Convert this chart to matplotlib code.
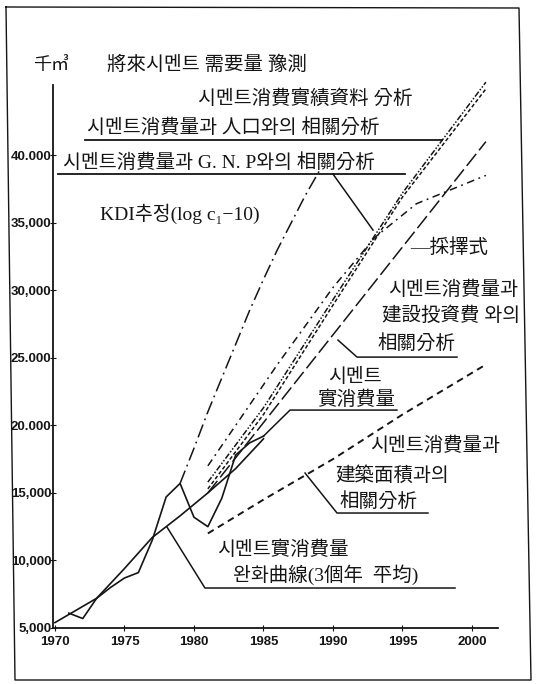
import matplotlib
matplotlib.use("Agg")
import matplotlib.pyplot as plt
from matplotlib.lines import Line2D

# cement consumption, thousand m3
actual_years = [1971, 1972, 1973, 1974, 1975, 1976, 1977, 1978, 1979, 1980, 1981, 1982, 1983, 1984, 1985]
actual = [6100, 5700, 7200, 8000, 8700, 9100, 11500, 14700, 15700, 13200, 12500, 14600, 17800, 18700, 19200]

smooth_years = [1970, 1973, 1975, 1977, 1979, 1981, 1983, 1985]
smooth = [5400, 7200, 9400, 11700, 13300, 15000, 16800, 19000]

kdi_years = [1979, 1980, 1981, 1982, 1983, 1984, 1985, 1986, 1987, 1988, 1989]
kdi = [15700, 18300, 21000, 23500, 26000, 28500, 30800, 33000, 35000, 37000, 38800]

proj_years = [1981, 1985, 1990, 1995, 2001]
record = [15800, 21300, 29300, 37200, 45400]       # 消費實績資料 分析
population = [15300, 20800, 28900, 36900, 44900]   # 人口와의 相關分析

chosen_years = [1981, 1990, 2001]
chosen = [15000, 26700, 41000]                     # 採擇式

gnp_years = [1981, 1983, 1986, 1990, 1993, 1996, 2001]
gnp = [17000, 20000, 24500, 30200, 33900, 36400, 38500]

floor_area = [12000, 14500, 17500, 20800, 24500]  # 建築面積

x_ticks = [1970, 1975, 1980, 1985, 1990, 1995, 2000]
y_ticks = [5000, 10000, 15000, 20000, 25000, 30000, 35000, 40000]
y_labels = ["5,000", "10,000", "15,000", "20.000", "25.000", "30,000", "35,000", "40.000"]

KR = ["Liberation Serif", "Noto Sans CJK KR", "DejaVu Serif"]
NUM = dict(family="Liberation Sans", fontweight="bold", fontsize=9.5)
INK = "#151515"

fig = plt.figure(figsize=(5.36, 6.84), dpi=100)
ax = fig.add_axes([53 / 536, 56 / 684, 445 / 536, 543 / 684])
ax.set_xlim(1969.86, 2001.87)
ax.set_ylim(5000, 45190)

for side in ("top", "right"):
    ax.spines[side].set_visible(False)
for side in ("left", "bottom"):
    ax.spines[side].set_linewidth(1.3)
    ax.spines[side].set_color(INK)

ax.set_xticks(x_ticks)
ax.set_xticklabels([str(y) for y in x_ticks], **NUM)
ax.set_yticks(y_ticks)
ax.set_yticklabels(y_labels, **NUM)
ax.tick_params(axis="x", direction="inout", length=4, pad=4, colors=INK)
ax.tick_params(axis="y", direction="inout", length=4, pad=-1, colors=INK)

lw = 1.1
ax.plot(actual_years, actual, color=INK, lw=1.2)
ax.plot(smooth_years, smooth, color=INK, lw=1.2)
ax.plot(kdi_years, kdi, color=INK, lw=lw, dashes=(9, 3, 1.2, 3), clip_on=False)
ax.plot(proj_years, record, color=INK, lw=lw, dashes=(4, 1.2, 1, 1.2, 1, 1.2), clip_on=False)
ax.plot(proj_years, population, color=INK, lw=lw, dashes=(2.5, 1.5), clip_on=False)
ax.plot(chosen_years, chosen, color=INK, lw=lw, dashes=(10, 3), clip_on=False)
ax.plot(gnp_years, gnp, color=INK, lw=lw, dashes=(5, 3, 1.2, 3), clip_on=False)
ax.plot(proj_years, floor_area, color=INK, lw=1.4, dashes=(3.5, 2.5), clip_on=False)


def label(x, y, s, size=14):
    ax.text(x, y, s, family=KR, fontsize=size, color=INK, ha="left", va="center")


def rule(xs, ys, w=1.1):
    ax.plot(xs, ys, color=INK, lw=w, clip_on=False)


# headings
label(1968.42, 46670, "千㎥", size=13)
label(1973.74, 46670, "將來시멘트 需要量 豫測")

label(1980.29, 44150, "시멘트消費實績資料 分析")
label(1972.30, 42070, "시멘트消費量과 人口와의 相關分析")
rule([1972.16, 1997.84], [41110, 41110], 1.3)

label(1970.58, 39480, "시멘트消費量과 G. N. P와의 相關分析")
rule([1970.22, 1995.18], [38600, 38600], 1.3)
rule([1990.0, 1992.88], [38600, 34450])

label(1973.24, 35640, "KDI추정(log c\u2081\u221210)")

label(1995.54, 33120, "\u2014採擇式")

label(1993.96, 30010, "시멘트消費量과")
label(1993.53, 28090, "建設投資費 와의")
label(1993.17, 26090, "相關分析")
rule([1990.36, 1991.73, 1998.92], [26310, 25050, 25050])

label(1989.64, 23570, "시멘트")
label(1988.85, 21870, "實消費量")
rule([actual_years[-1], 1986.91, 1994.6], [actual[-1], 21130, 21130])

label(1992.66, 18470, "시멘트消費量과")
label(1990.14, 16250, "建築面積과의")
label(1990.50, 14330, "相關分析")
rule([1987.99, 1990.29, 1996.83], [16470, 13510, 13510])

label(1981.65, 10770, "시멘트實消費量")
label(1982.81, 8920, "완화曲線(3個年  平均)")
rule([1978.06, 1980.79, 1998.78], [12470, 7960, 7960])

# page border
fx = [6, 519, 531, 15, 6]
fy = [7, 8, 680, 680, 7]
fig.add_artist(Line2D([x / 536 for x in fx], [1 - y / 684 for y in fy],
                      transform=fig.transFigure, color=INK, lw=1.0))

fig.savefig("out.png", dpi=100, facecolor="white")
